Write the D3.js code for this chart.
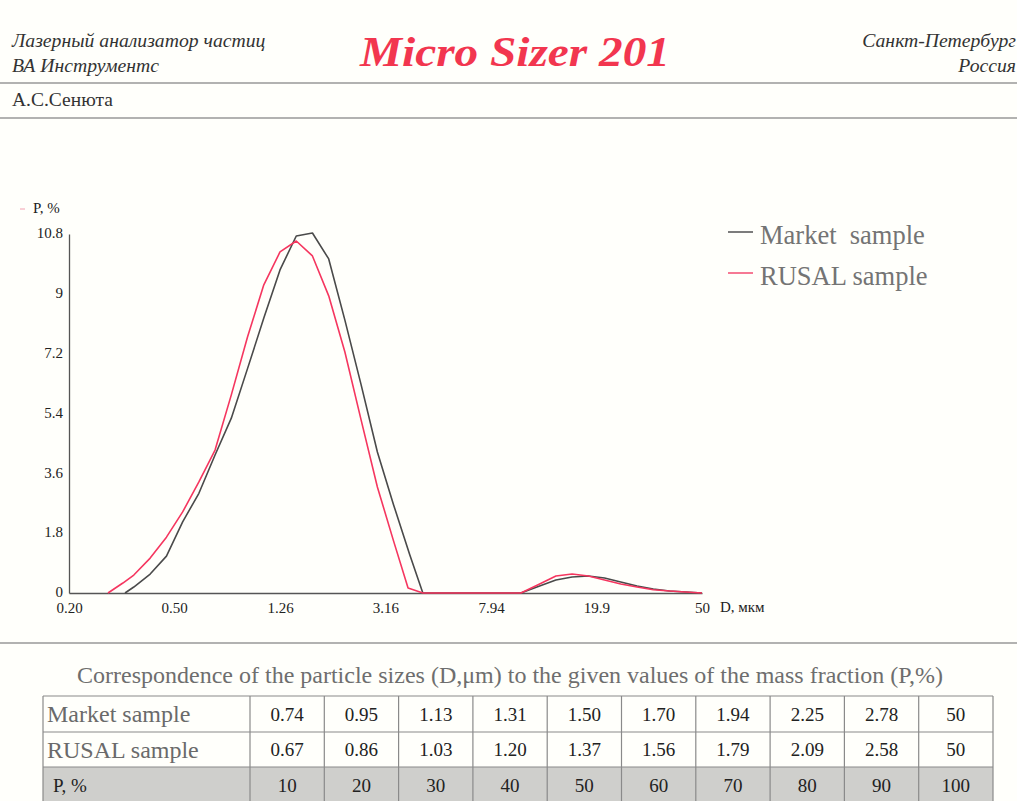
<!DOCTYPE html>
<html><head><meta charset="utf-8">
<script src="https://cdn.jsdelivr.net/npm/d3@7/dist/d3.min.js"></script>
<style>
html,body{margin:0;padding:0;background:#fffffb;}
svg{display:block;}
text{font-family:"Liberation Serif","DejaVu Serif",serif;}
</style></head>
<body>
<svg id="c" width="1017" height="801"></svg>
<script>
// ---- data ----
const dTicks = [0.2, 0.5, 1.26, 3.16, 7.94, 19.9, 50];
const dTickLabels = ["0.20", "0.50", "1.26", "3.16", "7.94", "19.9", "50"];
const pTicks = [0, 1.8, 3.6, 5.4, 7.2, 9, 10.8];
const pTickLabels = ["0", "1.8", "3.6", "5.4", "7.2", "9", "10.8"];

const marketD = [0.326, 0.352, 0.406, 0.468, 0.539, 0.621, 0.715, 0.824, 0.949, 1.094,
                 1.260, 1.452, 1.672, 1.927, 2.219, 2.557, 2.946, 3.394, 3.910, 4.38,
                 10.3, 12.13, 13.98, 16.10, 18.55, 21.37, 24.62, 28.38, 32.69, 37.67, 43.40, 50.0];
const marketP = [0, 0.18, 0.57, 1.11, 2.14, 3.0, 4.15, 5.26, 6.75, 8.27,
                 9.72, 10.74, 10.83, 10.05, 8.21, 6.26, 4.24, 2.65, 1.14, 0,
                 0, 0.21, 0.39, 0.48, 0.51, 0.45, 0.33, 0.21, 0.12, 0.06, 0.03, 0];

const rusalD = [0.281, 0.320, 0.352, 0.406, 0.468, 0.539, 0.621, 0.715, 0.824, 0.949,
                1.094, 1.260, 1.452, 1.672, 1.927, 2.219, 2.557, 2.946, 3.394, 3.85,
                4.38, 10.3, 12.13, 13.98, 16.10, 18.55, 21.37, 24.62, 28.38, 32.69, 37.67, 43.40, 50.0];
const rusalP = [0, 0.30, 0.54, 1.05, 1.68, 2.44, 3.34, 4.3, 5.96, 7.7,
                9.27, 10.26, 10.59, 10.14, 8.94, 7.25, 5.2, 3.19, 1.56, 0.15,
                0, 0, 0.27, 0.51, 0.57, 0.51, 0.39, 0.27, 0.18, 0.1, 0.06, 0.03, 0];

const seriesNames = ["Market  sample", "RUSAL sample"];

const tableRowLabels = ["Market sample", "RUSAL sample", "P, %"];
const marketSizes = ["0.74", "0.95", "1.13", "1.31", "1.50", "1.70", "1.94", "2.25", "2.78", "50"];
const rusalSizes  = ["0.67", "0.86", "1.03", "1.20", "1.37", "1.56", "1.79", "2.09", "2.58", "50"];
const pPercent    = ["10", "20", "30", "40", "50", "60", "70", "80", "90", "100"];

// ---- drawing ----
const svg = d3.select("#c");
const W = 1017;

// header
svg.append("text").attr("x", 12).attr("y", 47).attr("font-size", 19.7).attr("font-style", "italic")
  .attr("fill", "#333").text("Лазерный анализатор частиц");
svg.append("text").attr("x", 12).attr("y", 72).attr("font-size", 19.7).attr("font-style", "italic")
  .attr("fill", "#333").text("ВА Инструментс");
svg.append("text").attr("x", 1016).attr("y", 47).attr("font-size", 19.7).attr("font-style", "italic")
  .attr("text-anchor", "end").attr("fill", "#333").text("Санкт-Петербург");
svg.append("text").attr("x", 1016).attr("y", 72).attr("font-size", 19.7).attr("font-style", "italic")
  .attr("text-anchor", "end").attr("fill", "#333").text("Россия");
svg.append("text").attr("x", 360).attr("y", 66).attr("font-size", 42).attr("font-style", "italic")
  .attr("font-weight", "bold").attr("fill", "#f2364f")
  .attr("textLength", 310).attr("lengthAdjust", "spacingAndGlyphs")
  .text("Micro Sizer 201");
svg.append("line").attr("x1", 0).attr("x2", W).attr("y1", 83).attr("y2", 83)
  .attr("stroke", "#999").attr("stroke-width", 1.5);
svg.append("text").attr("x", 12).attr("y", 106).attr("font-size", 19.5)
  .attr("fill", "#333").text("А.С.Сенюта");
svg.append("line").attr("x1", 0).attr("x2", W).attr("y1", 118).attr("y2", 118)
  .attr("stroke", "#999").attr("stroke-width", 1.5);

// scales
const x = d3.scaleLog().domain([0.2, 50]).range([69, 702]);
const y = d3.scaleLinear().domain([0, 10.8]).range([593, 234]);

const xAxis = d3.axisBottom(x).tickValues(dTicks).tickSize(0).tickPadding(9)
  .tickFormat((d, i) => dTickLabels[i]);
const gx = svg.append("g").attr("transform", "translate(0,593)").call(xAxis);
gx.select(".domain").attr("stroke", "#555").attr("stroke-width", 1.3);
gx.selectAll("text").attr("font-family", "Liberation Serif").attr("font-size", 15).attr("fill", "#222");

const yAxis = d3.axisLeft(y).tickValues(pTicks).tickSize(0).tickPadding(6)
  .tickFormat((d, i) => pTickLabels[i]);
const gy = svg.append("g").attr("transform", "translate(69,0)").call(yAxis);
gy.select(".domain").attr("stroke", "#555").attr("stroke-width", 1.3);
gy.selectAll("text").attr("font-family", "Liberation Serif").attr("font-size", 15).attr("fill", "#222")
  .attr("dy", "0.25em");

svg.append("text").attr("x", 33).attr("y", 213).attr("font-size", 15).attr("fill", "#222").text("P, %");
svg.append("line").attr("x1", 20).attr("x2", 25).attr("y1", 209).attr("y2", 209)
  .attr("stroke", "#f3a0b0").attr("stroke-width", 1);
svg.append("text").attr("x", 720).attr("y", 612).attr("font-size", 15).attr("fill", "#222").text("D, мкм");

// curves
const line = d3.line().x(d => x(d[0])).y(d => y(d[1]));
const marketData = marketD.map((d, i) => [d, marketP[i]]);
const rusalData = rusalD.map((d, i) => [d, rusalP[i]]);
svg.append("path").datum(marketData).attr("d", line).attr("fill", "none")
  .attr("stroke", "#4a4a4a").attr("stroke-width", 1.6).attr("stroke-linejoin", "round");
svg.append("path").datum(rusalData).attr("d", line).attr("fill", "none")
  .attr("stroke", "#f5365f").attr("stroke-width", 1.6).attr("stroke-linejoin", "round");

// legend
const legColors = ["#6e6e6e", "#f56a88"];
seriesNames.forEach((name, i) => {
  const ly = 232 + i * 41;
  svg.append("line").attr("x1", 728).attr("x2", 753).attr("y1", ly).attr("y2", ly)
    .attr("stroke", legColors[i]).attr("stroke-width", 1.8);
  svg.append("text").attr("x", 760).attr("y", ly + 12).attr("font-size", 26.5)
    .attr("fill", "#747474").attr("xml:space", "preserve").style("white-space", "pre").text(name);
});

// separator
svg.append("line").attr("x1", 0).attr("x2", W).attr("y1", 643).attr("y2", 643)
  .attr("stroke", "#999").attr("stroke-width", 1.5);

// table title
svg.append("text").attr("x", 510).attr("y", 683).attr("font-size", 24).attr("text-anchor", "middle")
  .attr("fill", "#6e6e6e").text("Correspondence of the particle sizes (D,μm) to the given values of the mass fraction (P,%)");

// table
const tx0 = 43, tx1 = 250, tx2 = 993;
const rowTops = [696, 732, 767];
const rowH = [36, 35, 36];
const colW = (tx2 - tx1) / 10;
const rows = [marketSizes, rusalSizes, pPercent];

svg.append("rect").attr("x", tx0).attr("y", rowTops[2]).attr("width", tx2 - tx0).attr("height", 40)
  .attr("fill", "#cfcfcc");

rows.forEach((vals, r) => {
  const cy = rowTops[r] + rowH[r] / 2;
  svg.append("text").attr("x", r < 2 ? 47 : 53).attr("y", cy).attr("dy", "0.35em")
    .attr("font-size", r < 2 ? 24 : 19).attr("fill", r < 2 ? "#6a6a6a" : "#222")
    .text(tableRowLabels[r]);
  svg.selectAll(null).data(vals).enter().append("text")
    .attr("x", (d, i) => tx1 + colW * (i + 0.5)).attr("y", cy).attr("dy", "0.35em")
    .attr("text-anchor", "middle").attr("font-size", 19).attr("fill", "#222").text(d => d);
});

// grid lines
const gridColor = "#8a8a8a";
[696, 732, 767].forEach(yy => {
  svg.append("line").attr("x1", tx0).attr("x2", tx2).attr("y1", yy).attr("y2", yy)
    .attr("stroke", gridColor).attr("stroke-width", 1.2);
});
const vx = [tx0, tx1].concat(d3.range(1, 11).map(i => tx1 + colW * i));
vx.forEach(xx => {
  svg.append("line").attr("x1", xx).attr("x2", xx).attr("y1", 696).attr("y2", 801)
    .attr("stroke", gridColor).attr("stroke-width", 1.2);
});
</script>
</body></html>
